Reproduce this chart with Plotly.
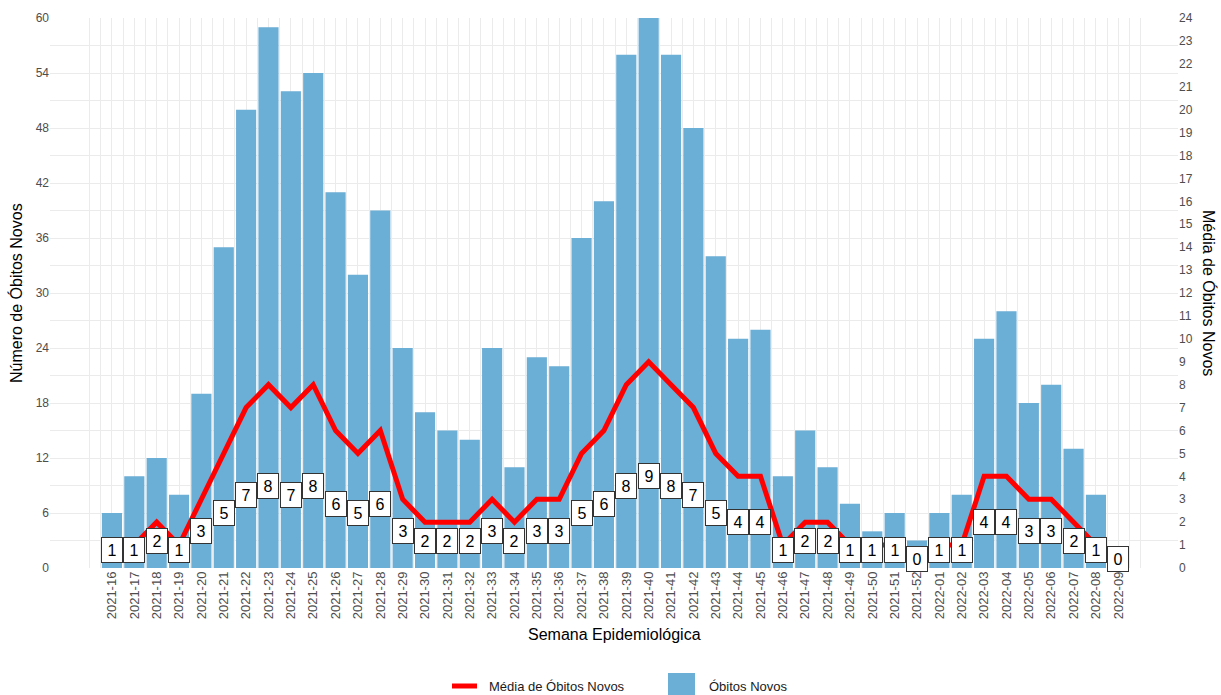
import numpy as np
import plotly.graph_objects as go

semanas = ["2021-16", "2021-17", "2021-18", "2021-19", "2021-20", "2021-21", "2021-22", "2021-23",
           "2021-24", "2021-25", "2021-26", "2021-27", "2021-28", "2021-29", "2021-30", "2021-31",
           "2021-32", "2021-33", "2021-34", "2021-35", "2021-36", "2021-37", "2021-38", "2021-39",
           "2021-40", "2021-41", "2021-42", "2021-43", "2021-44", "2021-45", "2021-46", "2021-47",
           "2021-48", "2021-49", "2021-50", "2021-51", "2021-52", "2022-01", "2022-02", "2022-03",
           "2022-04", "2022-05", "2022-06", "2022-07", "2022-08", "2022-09"]

obitos_novos = [6, 10, 12, 8, 19, 35, 50, 59, 52, 54, 41, 32, 39, 24, 17, 15,
                14, 24, 11, 23, 22, 36, 40, 56, 60, 56, 48, 34, 25, 26, 10, 15,
                11, 7, 4, 6, 3, 6, 8, 25, 28, 18, 20, 13, 8, 0]

media_obitos = [1, 1, 2, 1, 3, 5, 7, 8, 7, 8, 6, 5, 6, 3, 2, 2,
                2, 3, 2, 3, 3, 5, 6, 8, 9, 8, 7, 5, 4, 4, 1, 2,
                2, 1, 1, 1, 0, 1, 1, 4, 4, 3, 3, 2, 1, 0]

y_left_ticks = list(range(0, 61, 6))
y_right_ticks = list(range(0, 25, 1))

FONT = "Liberation Sans, Arial, sans-serif"
TICK_COLOR = "#4d4d4d"
GRID = "#ebebeb"
RED = "#ff0000"
BLUE = "#6baed6"

W, H = 1221, 695
ML, MR, MT, MB = 50, 43, 18, 127
PW, PH = W - ML - MR, H - MT - MB


def px(xp):
    return (xp - ML) / PW


def py(yp):
    return (H - MB - yp) / PH


x = np.arange(len(semanas))

fig = go.Figure()

fig.add_trace(go.Bar(
    x=x, y=obitos_novos, width=0.9,
    marker=dict(color=BLUE, line=dict(width=0)),
    name="Óbitos Novos", showlegend=False,
))

fig.add_trace(go.Scatter(
    x=x, y=media_obitos, yaxis="y2", mode="lines",
    line=dict(color=RED, width=5),
    name="Média de Óbitos Novos", showlegend=False,
))

# labels of the moving average (placed on the left scale, nudged up by 1)
for xi, v in zip(x, media_obitos):
    fig.add_annotation(
        x=xi, y=v + 1, xref="x", yref="y",
        text=str(v), showarrow=False,
        font=dict(family=FONT, size=16, color="#000000"),
        bgcolor="#ffffff", bordercolor="#333333", borderwidth=1, borderpad=2,
        width=16, height=20,
    )

# axis titles
fig.add_annotation(x=px(16), y=0.5, xref="paper", yref="paper", text="Número de Óbitos Novos",
                   textangle=-90, showarrow=False, xanchor="center", yanchor="middle",
                   font=dict(family=FONT, size=16, color="#000000"))
fig.add_annotation(x=px(1209), y=0.5, xref="paper", yref="paper", text="Média de Óbitos Novos",
                   textangle=90, showarrow=False, xanchor="center", yanchor="middle",
                   font=dict(family=FONT, size=16, color="#000000"))
fig.add_annotation(x=0.5, y=py(634), xref="paper", yref="paper", text="Semana Epidemiológica",
                   showarrow=False, xanchor="center", yanchor="middle",
                   font=dict(family=FONT, size=16, color="#000000"))

# legend (drawn by hand, ggplot-like keys)
leg_y = 686
fig.add_shape(type="line", xref="paper", yref="paper", x0=px(452), x1=px(477), y0=py(leg_y), y1=py(leg_y),
              line=dict(color=RED, width=5))
fig.add_annotation(x=px(487), y=py(leg_y), xref="paper", yref="paper", text="Média de Óbitos Novos",
                   showarrow=False, xanchor="left", yanchor="middle",
                   font=dict(family=FONT, size=13, color="#1a1a1a"))
fig.add_shape(type="rect", xref="paper", yref="paper", x0=px(668), x1=px(695), y0=py(673), y1=py(699),
              fillcolor=BLUE, line=dict(width=0))
fig.add_annotation(x=px(707), y=py(leg_y), xref="paper", yref="paper", text="Óbitos Novos",
                   showarrow=False, xanchor="left", yanchor="middle",
                   font=dict(family=FONT, size=13, color="#1a1a1a"))

minor_x = [v for v in np.arange(-1, len(semanas) + 0.5, 0.5)
           if not (0 <= v <= len(semanas) - 1 and v == int(v))]

fig.update_layout(
    width=W, height=H,
    margin=dict(l=ML, r=MR, t=MT, b=MB, autoexpand=False),
    paper_bgcolor="#ffffff", plot_bgcolor="#ffffff",
    font=dict(family=FONT, size=13, color=TICK_COLOR),
    showlegend=False,
    xaxis=dict(
        range=[-2.77, 47.67], tickmode="array", tickvals=list(x), ticktext=semanas,
        tickangle=-90, tickfont=dict(family=FONT, size=13, color=TICK_COLOR),
        showgrid=True, gridcolor=GRID, gridwidth=1,
        minor=dict(tickvals=minor_x, showgrid=True, gridcolor=GRID, gridwidth=0.6),
        zeroline=False, showline=False, ticks="", automargin=False,
    ),
    yaxis=dict(
        range=[0, 60], tickmode="array", tickvals=y_left_ticks,
        tickfont=dict(family=FONT, size=12, color=TICK_COLOR),
        showgrid=True, gridcolor=GRID, gridwidth=1,
        minor=dict(dtick=3, tick0=0, showgrid=True, gridcolor=GRID, gridwidth=0.6),
        zeroline=False, showline=False, ticks="", automargin=False,
    ),
    yaxis2=dict(
        range=[0, 24], overlaying="y", side="right", tickmode="array", tickvals=y_right_ticks,
        tickfont=dict(family=FONT, size=12, color=TICK_COLOR),
        showgrid=False, zeroline=False, showline=False, ticks="", automargin=False,
    ),
)

fig.write_html("out.html",
               config={"displayModeBar": False},
               post_script="document.body.style.margin='0px';document.body.style.overflow='hidden';")
